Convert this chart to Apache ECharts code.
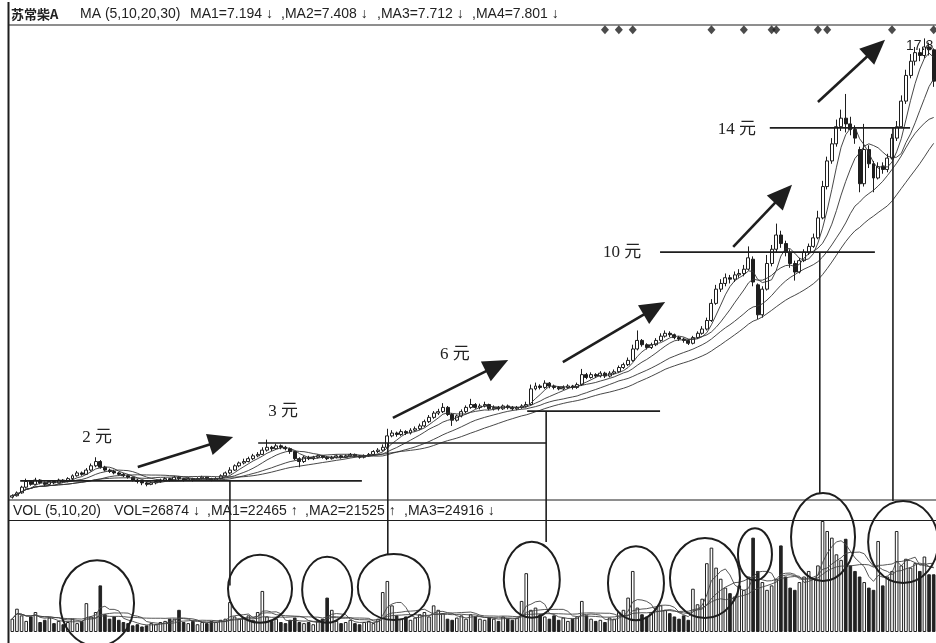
<!doctype html>
<html>
<head>
<meta charset="utf-8">
<title>苏常柴A</title>
<script src="https://cdn.jsdelivr.net/npm/echarts@6/dist/echarts.min.js"></script>
<style>
html,body{margin:0;padding:0;background:#fff;}
#main{width:936px;height:643px;}
</style>
</head>
<body>
<div id="main"></div>
<script>
// price bars (元), one per trading period
var opens = [1.70,1.75,1.85,2.05,2.25,2.15,2.30,2.20,2.15,2.25,2.20,2.30,2.25,2.35,2.45,2.55,2.50,2.65,2.80,2.95,
2.75,2.65,2.60,2.55,2.50,2.45,2.40,2.30,2.25,2.20,2.15,2.20,2.25,2.30,2.35,2.30,2.40,2.35,2.30,2.35,
2.30,2.35,2.40,2.35,2.30,2.35,2.45,2.55,2.65,2.80,2.90,2.95,3.05,3.15,3.20,3.35,3.45,3.40,3.50,3.45,
3.40,3.30,3.05,2.95,3.10,3.05,3.10,3.15,3.10,3.05,3.10,3.15,3.10,3.15,3.20,3.15,3.10,3.15,3.20,3.30,
3.35,3.45,3.85,3.95,3.90,4.00,3.95,4.05,4.10,4.20,4.35,4.50,4.65,4.70,4.85,4.60,4.40,4.55,4.70,4.85,
4.95,4.85,4.90,4.95,4.80,4.85,4.80,4.90,4.85,4.80,4.85,4.90,4.95,5.50,5.60,5.55,5.70,5.60,5.55,5.50,
5.55,5.60,5.55,5.65,6.00,5.90,6.00,5.95,6.05,5.95,6.05,6.10,6.25,6.35,6.50,6.90,7.20,7.05,6.95,7.05,
7.20,7.35,7.45,7.40,7.30,7.25,7.20,7.10,7.30,7.45,7.60,7.90,8.50,9.00,9.20,9.40,9.35,9.50,9.55,9.70,
10.05,9.15,8.10,9.00,9.90,10.40,10.90,10.60,10.30,9.90,9.60,10.00,10.30,10.50,10.80,11.50,12.60,13.50,14.10,14.70,
15.00,14.80,14.60,13.90,12.70,13.90,13.40,12.90,13.30,13.20,13.60,14.30,14.70,15.60,16.50,17.00,17.30,17.20,17.50,17.40];
var closes = [1.75,1.85,2.05,2.25,2.15,2.30,2.20,2.15,2.25,2.20,2.30,2.25,2.35,2.45,2.55,2.50,2.65,2.80,2.95,2.75,
2.65,2.60,2.55,2.50,2.45,2.40,2.30,2.25,2.20,2.15,2.20,2.25,2.30,2.35,2.30,2.40,2.35,2.30,2.35,2.30,
2.35,2.40,2.35,2.30,2.35,2.45,2.55,2.65,2.80,2.90,2.95,3.05,3.15,3.20,3.35,3.45,3.40,3.50,3.45,3.40,
3.30,3.05,2.95,3.10,3.05,3.10,3.15,3.10,3.05,3.10,3.15,3.10,3.15,3.20,3.15,3.10,3.15,3.20,3.30,3.35,
3.45,3.85,3.95,3.90,4.00,3.95,4.05,4.10,4.20,4.35,4.50,4.65,4.70,4.85,4.60,4.40,4.55,4.70,4.85,4.95,
4.85,4.90,4.95,4.80,4.85,4.80,4.90,4.85,4.80,4.85,4.90,4.95,5.50,5.60,5.55,5.70,5.60,5.55,5.50,5.55,
5.60,5.55,5.65,6.00,5.90,6.00,5.95,6.05,5.95,6.05,6.10,6.25,6.35,6.50,6.90,7.20,7.05,6.95,7.05,7.20,
7.35,7.45,7.40,7.30,7.25,7.20,7.10,7.30,7.45,7.60,7.90,8.50,9.00,9.20,9.40,9.35,9.50,9.55,9.70,10.10,
9.25,8.10,9.00,9.90,10.40,10.90,10.60,10.30,9.90,9.60,10.00,10.30,10.50,10.80,11.50,12.60,13.50,14.10,14.70,15.00,
14.80,14.60,14.30,12.70,13.90,13.40,12.90,13.30,13.20,13.60,14.30,14.70,15.60,16.50,17.00,17.30,17.20,17.50,17.40,16.30];
var lows = [1.65,1.72,1.82,2.00,2.10,2.12,2.15,2.08,2.12,2.15,2.18,2.20,2.22,2.30,2.42,2.45,2.48,2.60,2.75,2.70,
2.60,2.55,2.50,2.45,2.40,2.35,2.25,2.18,2.12,2.08,2.12,2.15,2.20,2.26,2.25,2.28,2.30,2.25,2.27,2.25,
2.28,2.32,2.30,2.26,2.28,2.32,2.42,2.50,2.62,2.75,2.85,2.92,3.00,3.10,3.18,3.30,3.32,3.36,3.38,3.34,
3.22,3.00,2.75,2.90,3.00,3.00,3.06,3.05,3.00,3.02,3.06,3.05,3.07,3.10,3.10,3.05,3.06,3.12,3.16,3.25,
3.30,3.42,3.80,3.82,3.85,3.88,3.90,4.00,4.05,4.15,4.30,4.45,4.58,4.65,4.55,4.20,4.35,4.50,4.65,4.80,
4.80,4.78,4.85,4.75,4.74,4.74,4.76,4.78,4.74,4.75,4.80,4.85,4.92,5.45,5.48,5.50,5.52,5.48,5.45,5.46,
5.50,5.48,5.50,5.60,5.84,5.86,5.88,5.90,5.88,5.90,6.00,6.05,6.20,6.30,6.45,6.85,6.98,6.88,6.90,7.00,
7.15,7.30,7.32,7.24,7.18,7.12,7.04,7.06,7.25,7.40,7.55,7.85,8.45,8.90,9.10,9.20,9.25,9.40,9.45,9.65,
9.10,7.95,8.00,8.95,9.80,10.30,10.45,10.15,9.75,9.30,9.55,9.95,10.20,10.45,10.75,11.45,12.50,13.40,14.00,14.55,
14.50,14.40,14.10,12.40,12.60,13.25,12.40,12.85,13.05,13.10,13.55,14.20,14.65,15.50,16.40,16.85,17.00,17.10,17.20,16.10];
var highs = [1.80,1.90,2.10,2.35,2.30,2.38,2.33,2.25,2.30,2.28,2.35,2.33,2.40,2.50,2.62,2.60,2.72,2.88,3.10,3.00,
2.80,2.70,2.66,2.58,2.55,2.50,2.42,2.35,2.28,2.24,2.25,2.30,2.35,2.40,2.38,2.45,2.44,2.38,2.40,2.38,
2.40,2.45,2.42,2.38,2.40,2.50,2.60,2.75,2.85,2.95,3.05,3.12,3.22,3.28,3.45,3.72,3.50,3.58,3.55,3.50,
3.44,3.32,3.10,3.15,3.15,3.15,3.20,3.18,3.14,3.15,3.20,3.18,3.20,3.25,3.23,3.18,3.20,3.25,3.35,3.42,
3.55,4.10,4.05,4.00,4.08,4.05,4.12,4.18,4.28,4.42,4.58,4.72,4.80,5.00,4.90,4.65,4.60,4.78,4.92,5.15,
5.00,4.98,5.05,4.98,4.92,4.90,4.95,4.95,4.90,4.90,4.96,5.05,5.65,5.72,5.66,5.80,5.74,5.65,5.60,5.62,
5.66,5.64,5.72,6.20,6.06,6.08,6.05,6.12,6.10,6.12,6.18,6.32,6.42,6.60,7.05,7.55,7.25,7.10,7.12,7.28,
7.45,7.55,7.52,7.44,7.36,7.30,7.24,7.36,7.52,7.70,8.00,8.65,9.15,9.35,9.55,9.50,9.62,9.70,9.85,10.50,
10.15,9.20,9.10,10.20,10.55,11.30,11.05,10.70,10.40,10.00,10.10,10.40,10.60,10.95,11.75,12.80,13.65,14.30,14.95,15.30,
15.85,15.05,14.75,14.00,14.80,14.05,13.50,13.45,13.45,13.75,14.45,14.90,15.80,16.70,17.25,17.50,17.45,17.80,17.65,17.45];
// volume, in % of the tallest bar
var volumes = [12,21,15,10,14,18,9,11,13,8,10,7,9,12,8,10,26,14,18,42,
16,12,14,11,9,8,6,7,5,6,8,7,9,10,12,12,20,9,8,10,
7,9,8,10,9,11,12,27,14,12,13,15,11,18,37,14,10,12,9,8,
11,13,9,8,9,7,10,12,31,20,10,8,9,11,8,7,9,10,8,12,
36,46,24,15,12,14,11,13,16,18,14,24,20,17,12,11,13,15,12,16,
14,12,11,13,12,10,14,12,11,13,28,53,20,22,16,14,12,15,11,13,
10,12,14,28,15,12,10,11,9,13,12,18,20,31,55,22,16,14,18,22,
24,20,17,14,12,15,11,39,25,30,62,76,58,48,40,35,32,42,38,50,
85,55,45,38,42,48,78,50,40,38,45,50,55,48,60,100,91,85,70,65,
84,60,55,50,45,40,38,82,42,50,55,91,60,66,58,62,55,68,52,52];
var maPeriods = [5, 10, 20, 30];
var volMaPeriods = [5, 10, 20];
var markerBars = [128, 131, 134, 151, 158, 164, 165, 174, 176, 190, 199];

// hand-drawn notes on the picture, in bar index / price / volume units
var levelLines = [[2.27, 1.7, 75.5], [3.60, 53.1, 115.3], [4.72, 111.2, 139.9], [10.30, 139.9, 186.3], [14.66, 163.6, 193.9]];
var dropLines = [[47.0, 2.27, 42], [81.1, 3.60, 70], [115.3, 4.72, 81], [174.4, 10.30, 125], [190.2, 14.66, 118]];
var arrows = [[27.1, 2.76, 47.7, 3.81], [82.2, 4.48, 107.1, 6.51], [118.9, 6.44, 141.0, 8.55], [155.7, 10.48, 168.4, 12.66], [174.0, 15.57, 188.5, 17.75]];
var rings = [[18.3, 26, 37, 43], [53.5, 39, 32, 34], [68.0, 38, 25, 33], [82.4, 40.5, 36, 33], [112.2, 47, 28, 38],
  [134.7, 44, 28, 37], [149.6, 48.6, 35, 40], [160.4, 70, 17, 26], [175.1, 85.6, 32, 44], [192.4, 81, 35, 41]];
var notes = [['2 元', 18.3, 3.78], ['3 元', 58.5, 4.69], ['6 元', 95.6, 6.69], ['10 元', 131.7, 10.27], ['14 元', 156.5, 14.59]];

function ma(arr, n) {
  var out = [];
  for (var i = 0; i < arr.length; i++) {
    var s = 0, k = 0;
    for (var j = Math.max(0, i - n + 1); j <= i; j++) { s += arr[j]; k++; }
    out.push(+(s / k).toFixed(3));
  }
  return out;
}

var cats = closes.map(function (v, i) { return i; });
var candles = closes.map(function (c, i) { return [opens[i], c, lows[i], highs[i]]; });
var volBars = volumes.map(function (v, i) {
  var up = closes[i] >= opens[i];
  return { value: v, itemStyle: { color: up ? '#fff' : '#222', borderColor: '#222', borderWidth: 1 } };
});
var markerData = markerBars.map(function (i) { return [i, 18.1]; });

var ink = '#1e1e1e';
var series = [{
  type: 'candlestick', xAxisIndex: 0, yAxisIndex: 0, data: candles, barWidth: '75%',
  itemStyle: { color: '#fff', color0: ink, borderColor: ink, borderColor0: ink, borderWidth: 1 }
}];
maPeriods.forEach(function (n) {
  series.push({ type: 'line', xAxisIndex: 0, yAxisIndex: 0, data: ma(closes, n), symbol: 'none', smooth: false,
    lineStyle: { color: '#333', width: 0.9 }, z: 3 });
});
series.push({ type: 'scatter', xAxisIndex: 0, yAxisIndex: 0, data: markerData, symbol: 'diamond', symbolSize: [8, 9],
  itemStyle: { color: ink }, clip: false });
series.push({ type: 'bar', xAxisIndex: 1, yAxisIndex: 1, data: volBars, barWidth: '78%' });
volMaPeriods.forEach(function (n) {
  series.push({ type: 'line', xAxisIndex: 1, yAxisIndex: 1, data: ma(volumes, n), symbol: 'none',
    lineStyle: { color: '#444', width: 0.9 }, z: 3 });
});

var chart = echarts.init(document.getElementById('main'));
var hidden = { show: false };
chart.setOption({
  animation: false,
  backgroundColor: '#fff',
  grid: [
    { left: 10, right: 0, top: 25, height: 475 },
    { left: 10, right: 0, top: 521, height: 111 }
  ],
  xAxis: [
    { type: 'category', gridIndex: 0, data: cats, axisLine: hidden, axisTick: hidden, axisLabel: hidden, splitLine: hidden },
    { type: 'category', gridIndex: 1, data: cats, axisLine: hidden, axisTick: hidden, axisLabel: hidden, splitLine: hidden }
  ],
  yAxis: [
    { type: 'value', gridIndex: 0, min: 1.6, max: 18.27, axisLine: hidden, axisTick: hidden, axisLabel: hidden, splitLine: hidden },
    { type: 'value', gridIndex: 1, min: 0, max: 100, axisLine: hidden, axisTick: hidden, axisLabel: hidden, splitLine: hidden }
  ],
  series: series
});

// pixel helpers (fractional bar index allowed)
function px(g, i, v) {
  var a = Math.floor(i), f = i - a;
  var p0 = chart.convertToPixel({ gridIndex: g }, [a, v]);
  if (!f) return p0;
  var p1 = chart.convertToPixel({ gridIndex: g }, [a + 1, v]);
  return [p0[0] + (p1[0] - p0[0]) * f, p0[1]];
}

var g = [];
var txt = { fill: '#222', font: '14px "Liberation Sans", "Noto Sans CJK SC", sans-serif', textVerticalAlign: 'middle' };
function label(x, y, s, extra) {
  g.push({ type: 'text', x: x, y: y, style: Object.assign({}, txt, { text: s }, extra || {}), z: 20 });
}
function seg(x1, y1, x2, y2, w) {
  g.push({ type: 'line', shape: { x1: x1, y1: y1, x2: x2, y2: y2 }, style: { stroke: ink, lineWidth: w }, z: 20 });
}

// frame
seg(8.5, 2, 8.5, 643, 2);
seg(8, 25, 936, 25, 1);
seg(8, 500, 936, 500, 1);
seg(8, 520.5, 936, 520.5, 1);

// headers
label(11, 14, '苏常柴A', { font: 'bold 13px "Noto Sans CJK SC", sans-serif' });
label(80, 14, 'MA (5,10,20,30)');
label(190, 14, 'MA1=7.194 ↓');
label(281, 14, ',MA2=7.408 ↓');
label(377, 14, ',MA3=7.712 ↓');
label(472, 14, ',MA4=7.801 ↓');
label(13, 511, 'VOL (5,10,20)');
label(114, 511, 'VOL=26874 ↓');
label(207, 511, ',MA1=22465 ↑');
label(305, 511, ',MA2=21525 ↑');
label(404, 511, ',MA3=24916 ↓');
label(906, 46, '17.8', { font: '14px "Liberation Sans", sans-serif' });

levelLines.forEach(function (l) {
  var a = px(0, l[1], l[0]), b = px(0, l[2], l[0]);
  seg(a[0], a[1], b[0], b[1], 1.6);
});
dropLines.forEach(function (l) {
  var a = px(0, l[0], l[1]), b = px(1, l[0], l[2]);
  seg(a[0], a[1], a[0], b[1], 1.6);
});
arrows.forEach(function (l) {
  var a = px(0, l[0], l[1]), b = px(0, l[2], l[3]);
  var dx = b[0] - a[0], dy = b[1] - a[1], len = Math.sqrt(dx * dx + dy * dy);
  var ux = dx / len, uy = dy / len, hl = 25, hw = 11;
  var bx = b[0] - ux * hl, by = b[1] - uy * hl;
  seg(a[0], a[1], bx + ux * 2, by + uy * 2, 2.6);
  g.push({ type: 'polygon', shape: { points: [[b[0], b[1]], [bx - uy * hw, by + ux * hw], [bx + uy * hw, by - ux * hw]] },
    style: { fill: ink }, z: 21 });
});
rings.forEach(function (r) {
  var c = px(1, r[0], r[1]);
  g.push({ type: 'ellipse', shape: { cx: c[0], cy: c[1], rx: r[2], ry: r[3] },
    style: { fill: null, stroke: ink, lineWidth: 2 }, z: 22 });
});
notes.forEach(function (n) {
  var c = px(0, n[1], n[2]);
  label(c[0], c[1], n[0], { font: '17px "Liberation Serif", "Noto Sans CJK SC", serif', textAlign: 'center' });
});

chart.setOption({ graphic: { elements: g } });
</script>
</body>
</html>
